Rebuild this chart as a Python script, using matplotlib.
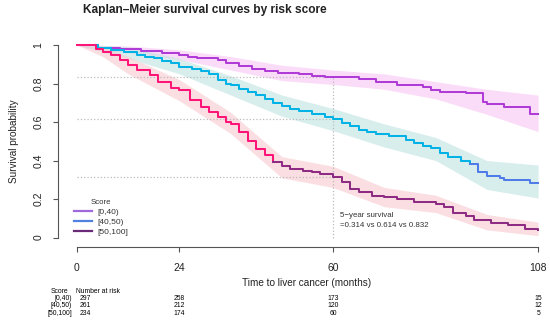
import numpy as np
import matplotlib
matplotlib.use('Agg')
import matplotlib.pyplot as plt
from matplotlib.lines import Line2D

plt.rcParams['font.family'] = ['Liberation Sans', 'DejaVu Sans']

groups = ['[0,40)', '[40,50)', '[50,100]']

# KM 阶梯点 (月, 生存率)
t_low = [0, 5, 10, 15, 20, 24, 26, 28, 33, 35, 38, 41, 44, 47, 52, 55, 58, 66, 70, 75, 81, 83, 85, 91, 95, 96, 100, 106, 108]
s_low = [1.0, 0.985, 0.98, 0.97, 0.96, 0.95, 0.94, 0.93, 0.92, 0.905, 0.89, 0.875, 0.865, 0.855, 0.85, 0.84, 0.832,
         0.823, 0.81, 0.79, 0.78, 0.767, 0.757, 0.75, 0.705, 0.693, 0.68, 0.64, 0.64]

t_mid = [0, 5, 8, 11, 14, 16, 18, 20, 22, 24, 27, 29, 31, 33, 35, 36, 38, 40, 42, 44, 46, 48, 50, 52, 55, 58, 60, 62,
         64, 66, 68, 70, 73, 77, 79, 81, 83, 85, 87, 90, 92, 94, 96, 99, 100, 106, 108]
s_mid = [1.0, 0.986, 0.975, 0.962, 0.948, 0.94, 0.93, 0.918, 0.906, 0.886, 0.875, 0.865, 0.85, 0.82, 0.8, 0.79, 0.77,
         0.755, 0.74, 0.72, 0.70, 0.685, 0.67, 0.655, 0.64, 0.625, 0.614, 0.595, 0.578, 0.56, 0.55, 0.54, 0.53, 0.506,
         0.49, 0.478, 0.465, 0.44, 0.42, 0.40, 0.38, 0.34, 0.32, 0.31, 0.30, 0.283, 0.283]

t_high = [0, 4.5, 6, 8, 10, 12, 14, 17, 19, 22, 24, 26.5, 29, 31, 33, 35, 36, 38, 40, 42, 44, 46, 48, 50, 53, 55, 57,
          60, 62, 64, 66, 69, 72, 75, 79, 84, 86, 88, 91, 93, 97, 101, 105, 108]
s_high = [1.0, 0.98, 0.965, 0.948, 0.92, 0.896, 0.87, 0.844, 0.81, 0.777, 0.765, 0.714, 0.68, 0.652, 0.625, 0.6, 0.59,
          0.55, 0.50, 0.46, 0.43, 0.39, 0.37, 0.355, 0.345, 0.34, 0.33, 0.314, 0.29, 0.25, 0.237, 0.215, 0.21, 0.20,
          0.185, 0.175, 0.16, 0.13, 0.11, 0.09, 0.075, 0.065, 0.045, 0.04]

# 置信带
band_t = [0, 6, 12, 24, 36, 48, 60, 72, 84, 96, 108]
up_low = [1, 0.998, 0.995, 0.975, 0.94, 0.895, 0.87, 0.85, 0.81, 0.77, 0.74]
lo_low = [1, 0.97, 0.96, 0.925, 0.87, 0.815, 0.795, 0.77, 0.72, 0.64, 0.55]
up_mid = [1, 0.998, 0.99, 0.93, 0.84, 0.74, 0.67, 0.59, 0.52, 0.40, 0.377]
lo_mid = [1, 0.965, 0.93, 0.85, 0.74, 0.63, 0.555, 0.47, 0.40, 0.25, 0.205]
up_high = [1, 0.99, 0.94, 0.82, 0.65, 0.42, 0.37, 0.26, 0.22, 0.12, 0.08]
lo_high = [1, 0.94, 0.85, 0.71, 0.54, 0.31, 0.26, 0.16, 0.13, 0.04, 0.01]

surv_5y = [0.314, 0.614, 0.832]

risk_times = [0, 24, 60, 108]
risk_low = [297, 258, 173, 15]
risk_mid = [261, 212, 120, 12]
risk_high = [234, 174, 60, 5]

fig = plt.figure(figsize=(5.5, 3.2), dpi=100)
ax = fig.add_axes([58 / 550, 1 - 247 / 320, 488 / 550, 209.7 / 320])
ax.set_xlim(-4.45, 109.85)
ax.set_ylim(-0.049, 1.04)

# 置信带
ax.fill_between(band_t, lo_low, up_low, color='#F9C6F4', alpha=0.6, lw=0)
ax.fill_between(band_t, lo_mid, up_mid, color='#BFE3E1', alpha=0.6, lw=0)
ax.fill_between(band_t, lo_high, up_high, color='#F8C8CE', alpha=0.6, lw=0)

# 参考虚线
for s in surv_5y:
    ax.plot([0, 60], [s, s], color='#BBBBBB', ls=':', lw=0.9)
ax.plot([60, 60], [0, max(surv_5y)], color='#BBBBBB', ls=':', lw=0.9)


def step_line(t, s, split, c1, c2):
    # 分两段画，颜色在 split 处改变
    t = np.array(t)
    s = np.array(s)
    i = np.searchsorted(t, split)
    ax.plot(t[:i + 1], s[:i + 1], drawstyle='steps-post', color=c1, lw=1.45)
    ax.plot(t[i:], s[i:], drawstyle='steps-post', color=c2, lw=1.45)


step_line(t_low, s_low, 200, '#B03CD8', '#B03CD8')
step_line(t_mid, s_mid, 92, '#00B2E5', '#4F7CE8')
step_line(t_high, s_high, 46, '#FF1478', '#8E2C84')

# 坐标轴，R 风格
for k in ['top', 'right']:
    ax.spines[k].set_visible(False)
ax.spines['left'].set_bounds(0, 1)
ax.spines['bottom'].set_bounds(0, 108)
ax.spines['left'].set_color('#555555')
ax.spines['bottom'].set_color('#555555')
ax.set_xticks(risk_times)
ax.set_yticks([0, 0.2, 0.4, 0.6, 0.8, 1])
ax.set_yticklabels(['0', '0.2', '0.4', '0.6', '0.8', '1'], rotation=90, va='center')
ax.tick_params(axis='both', length=3.5, width=0.8, color='#555555', labelsize=7.5, labelcolor='#222222')
ax.tick_params(axis='x', pad=8)
ax.tick_params(axis='y', pad=7)

ax.set_xlabel('Time to liver cancer (months)', fontsize=7.2, color='#222222')
ax.xaxis.set_label_coords(0.51, -0.148)
ax.set_ylabel('Survival probability', fontsize=7.2, color='#222222')
ax.yaxis.set_label_coords(-0.08, 0.505)

fig.text(205 / 550, 1 - 10 / 320, 'Kaplan\u2013Meier survival curves by risk score', ha='center', va='center',
         fontsize=8.6, fontweight='bold', color='#222222')

# 图例
handles = [Line2D([], [], color=c, lw=1.6) for c in ['#9E6ADB', '#5080E0', '#6A2A78']]
leg = ax.legend(handles, groups, title='Score', frameon=False, loc='upper left', bbox_to_anchor=(0.033, 0.228),
                borderaxespad=0, borderpad=0, fontsize=6, title_fontsize=5.6, handlelength=2.1,
                handletextpad=0.7, labelspacing=0.25)
for txt in leg.get_texts():
    txt.set_color('#333333')
leg.get_title().set_color('#333333')

ax.text(61.6, 0.088, '5\u2212year survival\n=%.3f vs %.3f vs %.3f' % tuple(surv_5y), fontsize=5.7,
        color='#333333', va='center', ha='left', linespacing=1.45)

# 风险表
ax.text(-4.2, -0.278, 'Score', fontsize=4.9, ha='center', va='center', clip_on=False)
ax.text(-0.2, -0.278, 'Number at risk', fontsize=4.9, ha='left', va='center', clip_on=False)
rows = [risk_low, risk_mid, risk_high]
row_y = [-0.314, -0.353, -0.392]
for g, r, y in zip(groups, rows, row_y):
    ax.text(-1.2, y, g, fontsize=4.9, ha='right', va='center', clip_on=False)
    for j, (t, n) in enumerate(zip(risk_times, r)):
        xx = 1.9 if j == 0 else t
        ax.text(xx, y, str(n), fontsize=4.9, ha='center', va='center', clip_on=False)

fig.savefig('out.png', dpi=100)
